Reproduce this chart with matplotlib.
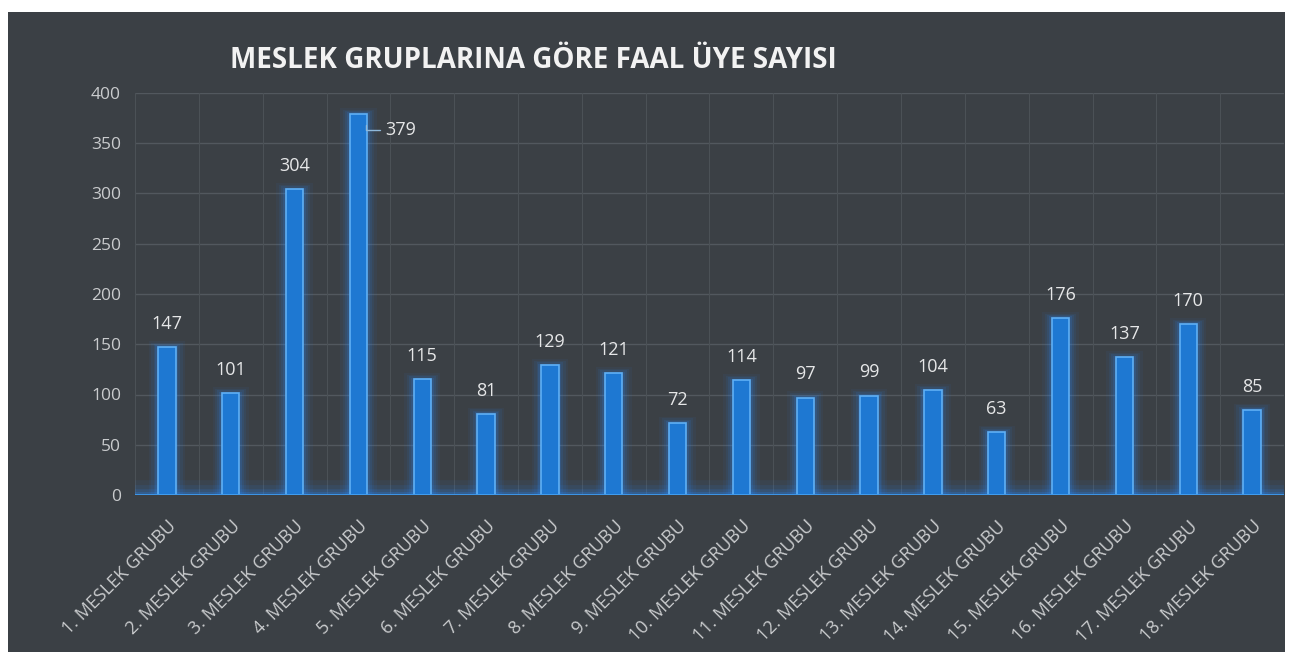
import matplotlib
matplotlib.use("Agg")
import matplotlib.pyplot as plt
from matplotlib.patches import Rectangle
import numpy as np

categories = [f"{i}. MESLEK GRUBU" for i in range(1, 19)]
values = [147, 101, 304, 379, 115, 81, 129, 121, 72, 114, 97, 99, 104, 63, 176, 137, 170, 85]
yticks = [0, 50, 100, 150, 200, 250, 300, 350, 400]
title = "MESLEK GRUPLARINA GÖRE FAAL ÜYE SAYISI"

plt.rcParams['font.family'] = ['Open Sans', 'DejaVu Sans']

fig = plt.figure(figsize=(12.98, 6.65), dpi=100, facecolor='white')
panel = Rectangle((8/1298, 13/665), 1277/1298, 640/665, transform=fig.transFigure,
                  facecolor='#3b4045', edgecolor='none', zorder=-10)
fig.patches.append(panel)

ax = fig.add_axes([135/1298, 170/665, 1149/1298, 402/665])
ax.set_zorder(5)
ax.set_facecolor('none')
x = np.arange(len(categories))

# glow layers
for extra, a in [(0.30, 0.05), (0.22, 0.07), (0.15, 0.10), (0.09, 0.14)]:
    ax.bar(x, [v + extra * 40 for v in values], width=0.27 + extra,
           bottom=-extra * 20, color='#2a8cff', alpha=a, edgecolor='none', zorder=2)
ax.bar(x, values, width=0.27, color='#1e78d2', edgecolor='#5fb0f5', linewidth=1.2, zorder=3)

# glowing baseline
for lw, a in [(22, 0.06), (15, 0.09), (9, 0.14), (5, 0.2)]:
    ax.axhline(0, color='#2a8cff', lw=lw, alpha=a, zorder=2)
ax.axhline(0, color='#3d9bf0', lw=2, zorder=4)

ax.set_xlim(-0.5, len(categories) - 0.5)
ax.set_ylim(0, 400)
ax.set_yticks(yticks)
ax.set_yticklabels([str(t) for t in yticks], color='#c9cbcd', fontsize=12.5)
ax.set_xticks(x)
ax.set_xticklabels(categories, rotation=45, ha='right', rotation_mode='anchor',
                   color='#c9cbcd', fontsize=13)
ax.tick_params(axis='both', length=0, pad=10)
ax.tick_params(axis='x', pad=16)

ax.grid(axis='y', color='#52585e', lw=1)
ax.set_axisbelow(True)
for b in np.arange(-0.5, len(categories), 1):
    ax.axvline(b, color='#4b5156', lw=0.8, zorder=1)
for s in ax.spines.values():
    s.set_visible(False)

for i, v in enumerate(values):
    if v == max(values):
        ax.annotate(str(v), xy=(i + 0.12, v - 8), xytext=(i + 0.42, v - 16),
                    color='#e6e7e8', fontsize=13, va='center', ha='left',
                    arrowprops=dict(arrowstyle='-', color='#8fb8da', lw=1,
                                    connectionstyle='angle,angleA=0,angleB=90'))
    else:
        ax.text(i, v + 14, str(v), ha='center', va='bottom', color='#e6e7e8', fontsize=13)

fig.text(230/1298, 1 - 60/665, title, color='#f2f2f2', fontsize=20, fontweight='bold',
         ha='left', va='center')

fig.savefig('out.png', dpi=100, facecolor='white')
